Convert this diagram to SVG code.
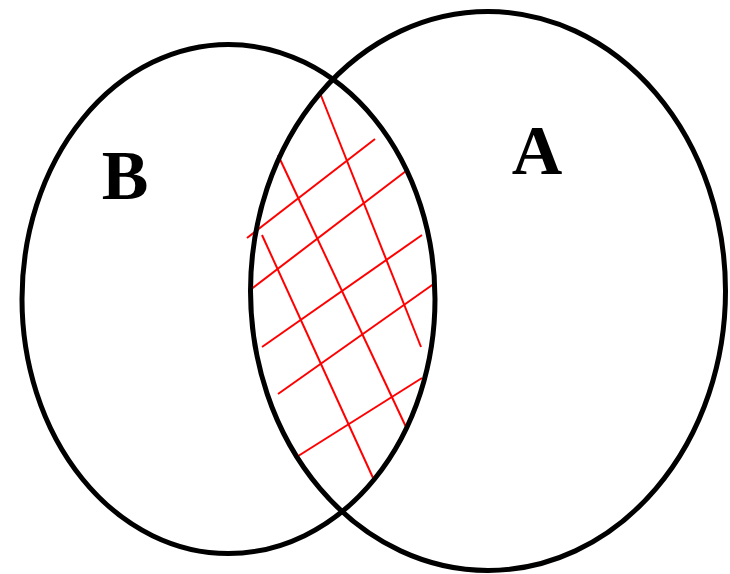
<svg xmlns="http://www.w3.org/2000/svg" width="730" height="574" viewBox="0 0 730 574">
<style>
.set{fill:none;stroke:#000;stroke-width:5}
.hatch line{stroke:#ff0000;stroke-width:2}
.lbl{font-family:"Liberation Serif","Times New Roman",serif;font-weight:bold;font-size:70px;fill:#000;text-anchor:middle}
</style>
<rect width="730" height="574" fill="#fff"/>
<g id="hatch" class="hatch">
<line x1="320" y1="93" x2="421" y2="347"/>
<line x1="278" y1="155" x2="406" y2="427"/>
<line x1="262" y1="235" x2="374" y2="480"/>
<line x1="247" y1="238" x2="375" y2="139"/>
<line x1="250" y1="290" x2="406" y2="171"/>
<line x1="262" y1="347" x2="422" y2="235"/>
<line x1="278" y1="394" x2="435" y2="283"/>
<line x1="295" y1="458" x2="422" y2="378"/>
</g>
<g id="setB">
<ellipse class="set" cx="228.5" cy="299" rx="206.5" ry="254.5"/>
<text class="lbl" x="125" y="199">B</text>
</g>
<g id="setA">
<ellipse class="set" cx="488" cy="291" rx="237.5" ry="279.5"/>
<text class="lbl" x="537" y="174">A</text>
</g>
</svg>
